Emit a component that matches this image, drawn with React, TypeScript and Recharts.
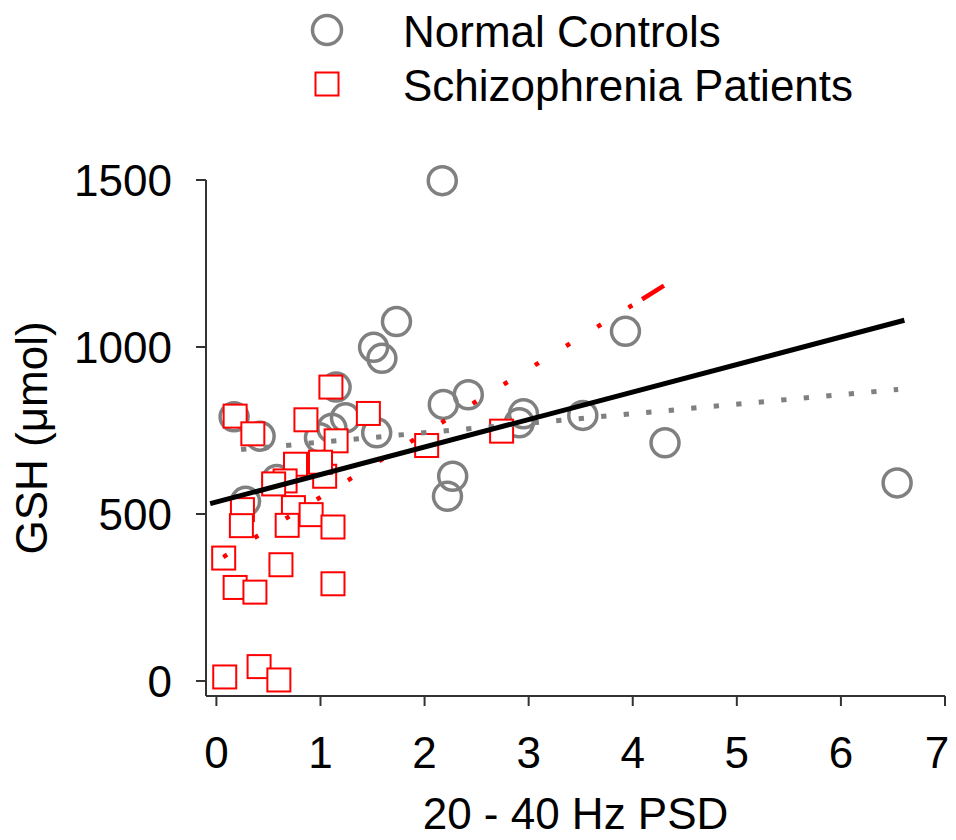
import { Legend, Scatter, ScatterChart, XAxis, YAxis } from "recharts"

const GRAY = "#808080"
const RED = "#ff0000"
const FONT = '"Liberation Sans", Arial, sans-serif'

// Normal controls (gray circles)
const controlsPSD = [
	2.17, 1.73, 1.51, 1.59, 1.15, 3.93, 2.42, 2.18, 2.95, 2.91, 3.52, 4.31, 6.54,
	2.27, 2.22, 1.54, 0.17, 0.42, 0.58, 0.28, 1.24, 1.11, 0.99,
]
const controlsGSH = [
	1498, 1076, 999, 966, 880, 1047, 857, 828, 800, 773, 795, 713, 593, 613, 553,
	743, 791, 733, 603, 538, 788, 757, 728,
]

// Schizophrenia patients (red squares)
const patientsPSD = [
	1.1, 0.18, 0.35, 0.86, 1.46, 1.15, 0.76, 1.04, 0.66, 0.25, 0.24, 0.74, 0.68,
	0.91, 1.12, 0.07, 0.62, 0.18, 0.37, 1.12, 0.08, 0.41, 0.6, 2.74, 2.02, 1.0,
	0.55,
]
const patientsGSH = [
	880, 793, 740, 782, 801, 719, 649, 613, 599, 513, 465, 519, 466, 498, 461, 368,
	348, 280, 266, 291, 12, 43, 3, 748, 705, 655, 590,
]

// regression lines, end points
const allFitPSD = [-0.06, 6.61]
const allFitGSH = [531, 1080]
const controlsFitPSD = [0.237, 6.55]
const controlsFitGSH = [693, 873]
const patientsFitPSD = [0.066, 4.09]
const patientsFitGSH = [371, 1143]
const patientsTailPSD = [4.09, 4.3]
const patientsTailGSH = [1143, 1184]

const xTicks = [0, 1, 2, 3, 4, 5, 6, 7]
const yTicks = [0, 500, 1000, 1500]

const toPoints = (xs: number[], ys: number[]) => xs.map((x, i) => ({ x, y: ys[i] }))

const controls = toPoints(controlsPSD, controlsGSH)
const patients = toPoints(patientsPSD, patientsGSH)
const allFit = toPoints(allFitPSD, allFitGSH)
const controlsFit = toPoints(controlsFitPSD, controlsFitGSH)
const patientsFit = toPoints(patientsFitPSD, patientsFitGSH)
const patientsTail = toPoints(patientsTailPSD, patientsTailGSH)

const CircleMark = (props: any) => (
	<circle cx={props.cx} cy={props.cy} r={14} fill="none" stroke={GRAY} strokeWidth={3.5} />
)

const SquareMark = (props: any) => (
	<rect x={props.cx - 11.5} y={props.cy - 11.5} width={23} height={23} fill="#fff" stroke={RED} strokeWidth={2} />
)

const NoMark = () => <g />

function LegendBox(props: any) {
	const items = (props.payload || []).filter((p: any) => p.type !== "none")
	return (
		<svg width={940} height={110} style={{ fontFamily: FONT }}>
			{items.map((item: any, i: number) => {
				const cy = 22 + i * 54
				return (
					<g key={item.value}>
						{i === 0 ? (
							<circle cx={319} cy={cy} r={14.5} fill="none" stroke={GRAY} strokeWidth={3.5} />
						) : (
							<rect x={307.5} y={cy - 11.5} width={23} height={23} fill="none" stroke={RED} strokeWidth={2} />
						)}
						<text x={395} y={cy + 1} dy="0.355em" fontSize={44} fill="#000">
							{item.value}
						</text>
					</g>
				)
			})}
		</svg>
	)
}

export default function App() {
	return (
		<div style={{ fontFamily: FONT }}>
			<ScatterChart width={940} height={830} margin={{ top: 172, right: 3, bottom: 0, left: 0 }}>
				<XAxis
					type="number"
					dataKey="x"
					domain={[-0.1, 7]}
					ticks={xTicks}
					height={142}
					tickSize={10}
					tickMargin={31}
					stroke="#333"
					strokeWidth={2}
					tick={{ fill: "#000", fontSize: 44 }}
					label={{ value: "20 - 40 Hz PSD", position: "insideBottom", offset: 9, style: { fontSize: 44, fill: "#000" } }}
				/>
				<YAxis
					type="number"
					dataKey="y"
					domain={[-45, 1500]}
					ticks={yTicks}
					width={198}
					tickSize={10}
					tickMargin={24}
					stroke="#333"
					strokeWidth={2}
					tick={{ fill: "#000", fontSize: 44 }}
					label={{
						value: "GSH (μmol)",
						angle: -90,
						position: "insideLeft",
						offset: 23,
						style: { textAnchor: "middle", fontSize: 44, fill: "#000" },
					}}
				/>
				<Legend
					layout="vertical"
					verticalAlign="middle"
					align="center"
					wrapperStyle={{ top: 0, left: 0, width: 940, height: 110 }}
					content={<LegendBox />}
				/>
				<Scatter name="Normal Controls" data={controls} shape={CircleMark} isAnimationActive={false} />
				<Scatter name="Schizophrenia Patients" data={patients} shape={SquareMark} isAnimationActive={false} />
				<Scatter
					data={controlsFit}
					shape={NoMark}
					legendType="none"
					line={{ stroke: GRAY, strokeWidth: 5, strokeDasharray: "5.3 17.3" }}
					isAnimationActive={false}
				/>
				<Scatter
					data={patientsFit}
					shape={NoMark}
					legendType="none"
					line={{ stroke: RED, strokeWidth: 4.5, strokeDasharray: "4.5 32.1" }}
					isAnimationActive={false}
				/>
				<Scatter
					data={patientsTail}
					shape={NoMark}
					legendType="none"
					line={{ stroke: RED, strokeWidth: 4.5 }}
					isAnimationActive={false}
				/>
				<Scatter
					data={allFit}
					shape={NoMark}
					legendType="none"
					line={{ stroke: "#000", strokeWidth: 5 }}
					isAnimationActive={false}
				/>
			</ScatterChart>
		</div>
	)
}
